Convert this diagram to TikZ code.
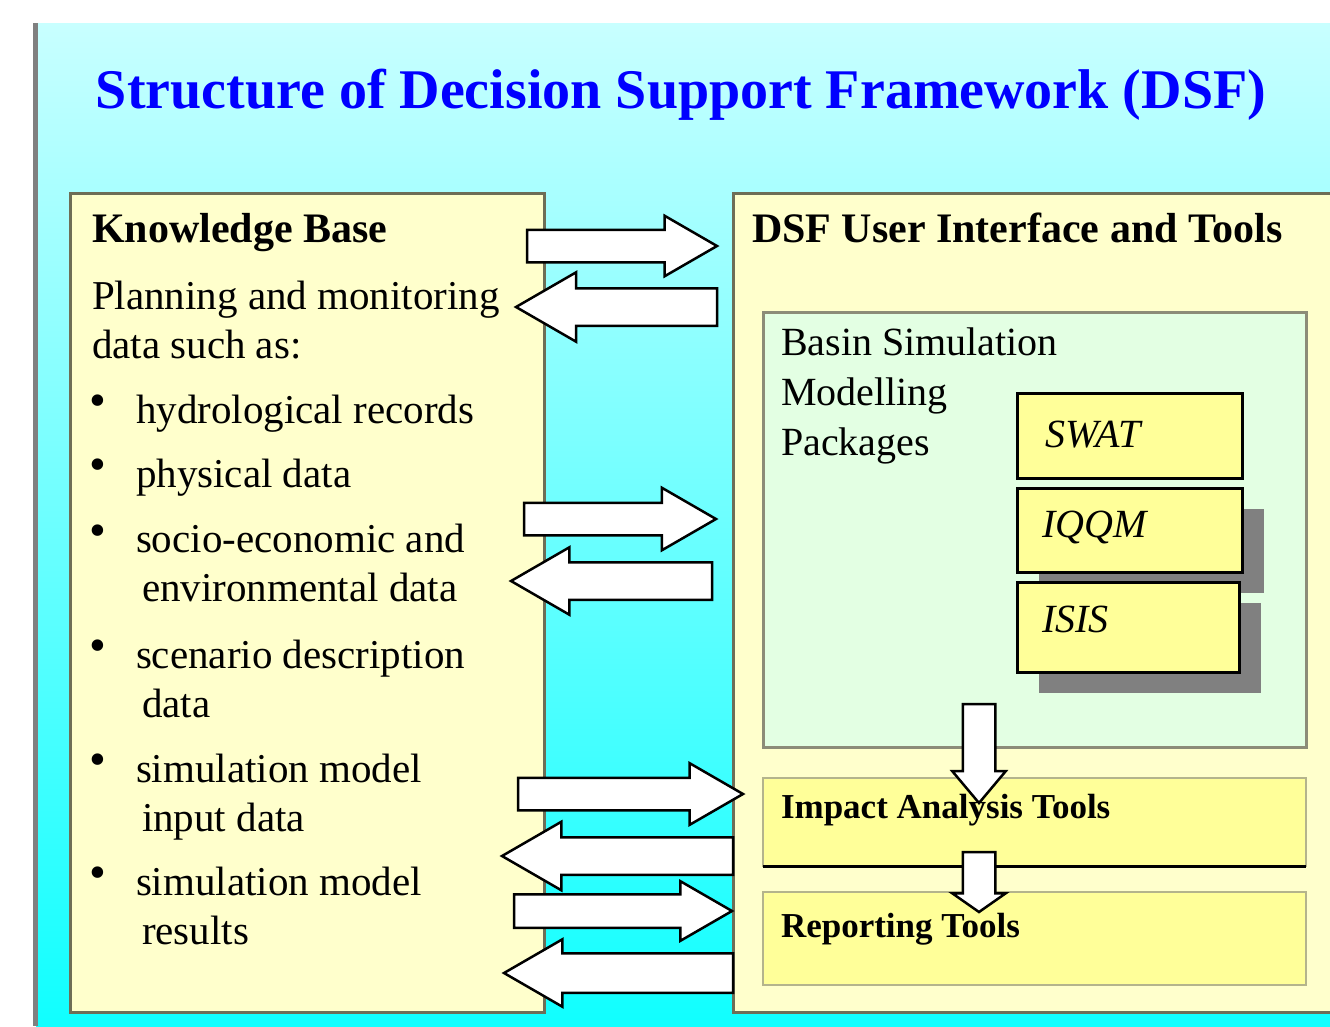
\documentclass[tikz,border=0pt]{standalone}
\usepackage{fontspec}
\setmainfont{Liberation Serif}
\usetikzlibrary{shapes.arrows,shadows}

\definecolor{skytop}{HTML}{C8FFFF}
\definecolor{skybottom}{HTML}{10FFFF}
\definecolor{paper}{HTML}{FFFFCC}
\definecolor{rim}{HTML}{6E6E56}
\definecolor{mint}{HTML}{E3FFE3}
\definecolor{mintrim}{HTML}{8C8C78}
\definecolor{lemon}{HTML}{FFFF99}
\definecolor{lemonrim}{HTML}{B4B48C}
\definecolor{titleblue}{HTML}{0000FF}

\begin{document}
\begin{tikzpicture}[x=1pt, y=-1pt,
        every node/.style={inner sep=0pt, outer sep=0pt},
        txt/.style={anchor=base west, align=left, font=\fontsize{41}{49}\selectfont},
        headtxt/.style={anchor=base west, font=\fontsize{42}{50}\selectfont\bfseries},
        tooltxt/.style={anchor=base west, font=\fontsize{35}{42}\selectfont\bfseries},
        pkgtxt/.style={anchor=base west, font=\fontsize{40}{48}\selectfont\itshape},
        panel/.style={anchor=north west, draw=rim, line width=3pt, fill=paper},
        pkg/.style={anchor=north west, draw=black, line width=3pt, fill=lemon},
        pkgshadow/.style={drop shadow={shadow xshift=22pt, shadow yshift=-21pt, fill=gray, opacity=1}},
        tool/.style={anchor=north west, draw=lemonrim, line width=2.5pt, fill=lemon, minimum width=543pt},
        flow/.style={single arrow, anchor=tip, draw=black, fill=white, line width=2.5pt, single arrow tip angle=60},
        rflow/.style={flow},
        lflow/.style={flow, shape border rotate=180},
        dflow/.style={flow, shape border rotate=270, inner sep=15pt, single arrow head extend=10.5pt}
    ]
    \useasboundingbox (0,0) rectangle (1330,1026);
    \clip (0,0) rectangle (1330,1026);

    % backdrop
    \fill[white] (0,0) rectangle (1330,1026);
    \shade[top color=skytop, bottom color=skybottom] (36,23) rectangle (1330,1026);
    \fill[gray] (33,23) rectangle (38,1026);

    \node[font=\fontsize{56}{60}\selectfont\bfseries, text=titleblue, anchor=base] (title) at (681,108) {Structure of Decision Support Framework (DSF)};

    % the two main panels
    \node[panel, minimum width=474pt, minimum height=819pt] (kb) at (70,193) {};
    \node[panel, minimum width=620pt, minimum height=819pt] (dsf) at (733,193) {};

    % knowledge base (multi-line nodes sit on their last baseline)
    \node[headtxt] (kbhead) at (92,242) {Knowledge Base};
    \node[txt] (kbintro) at (92,358) {Planning and monitoring\\data such as:};
    \foreach \y/\last/\lbl [count=\i] in {423/423/{hydrological records}, 487/487/{physical data},
            553/601/{socio-economic and\\\hspace*{6pt}environmental data}, 668/717/{scenario description\\\hspace*{6pt}data},
            782/831/{simulation model\\\hspace*{6pt}input data}, 895/944/{simulation model\\\hspace*{6pt}results}} {
        \node[font=\fontsize{48}{56}\selectfont] (dot\i) at (98,\y-17) {\textbullet};
        \node[txt] (item\i) at (136,\last) {\lbl};
    }

    % user interface and tools
    \node[headtxt] (dsfhead) at (752,242) {DSF User Interface and Tools};
    \node[anchor=north west, draw=mintrim, line width=3pt, fill=mint, minimum width=543pt, minimum height=435pt] (sim) at (763,312) {};
    \node[txt, font=\fontsize{40}{50}\selectfont] (simtxt) at (781,455) {Basin Simulation\\Modelling\\Packages};

    \node[pkg, minimum width=225pt, minimum height=85pt] (swat) at (1017,393) {};
    \node[pkg, pkgshadow, minimum width=225pt, minimum height=84pt] (iqqm) at (1017,488) {};
    \node[pkg, pkgshadow, minimum width=222pt, minimum height=90pt] (isis) at (1017,582) {};
    \node[pkgtxt] (swattxt) at (1045,447) {SWAT};
    \node[pkgtxt] (iqqmtxt) at (1042,537) {IQQM};
    \node[pkgtxt] (isistxt) at (1042,632) {ISIS};

    \node[tool, minimum height=88pt] (impact) at (763,778) {};
    \draw[line width=3pt] (impact.south west) -- (impact.south east);
    \node[tool, minimum height=93pt] (report) at (763,892) {};
    \node[tooltxt] (impacttxt) at (781,818) {Impact Analysis Tools};
    \node[tooltxt] (reporttxt) at (781,937) {Reporting Tools};

    % data going back and forth between the panels
    \node[rflow, minimum height=190pt, inner sep=15pt, single arrow head extend=14pt] (out1) at (717,246) {};
    \node[lflow, minimum height=201pt, inner sep=17.5pt, single arrow head extend=16pt] (in1) at (516,307) {};
    \node[rflow, minimum height=192pt, inner sep=15pt, single arrow head extend=15pt] (out2) at (716,519) {};
    \node[lflow, minimum height=201pt, inner sep=17.5pt, single arrow head extend=15pt] (in2) at (511,581) {};
    \node[rflow, minimum height=225pt, inner sep=15pt, single arrow head extend=14.5pt] (out3) at (743,794) {};
    \node[lflow, minimum height=231pt, inner sep=17.5pt, single arrow head extend=15.5pt] (in3) at (502,856) {};
    \node[rflow, minimum height=218pt, inner sep=15.5pt, single arrow head extend=13pt] (out4) at (732,911) {};
    \node[lflow, minimum height=229pt, inner sep=18.5pt, single arrow head extend=14pt] (in4) at (504,973) {};

    % models feed the tools
    \node[dflow, minimum height=99pt, single arrow tip angle=80] (down1) at (979,803) {};
    \node[dflow, minimum height=60pt, single arrow tip angle=110] (down2) at (979,912) {};
\end{tikzpicture}
\end{document}
